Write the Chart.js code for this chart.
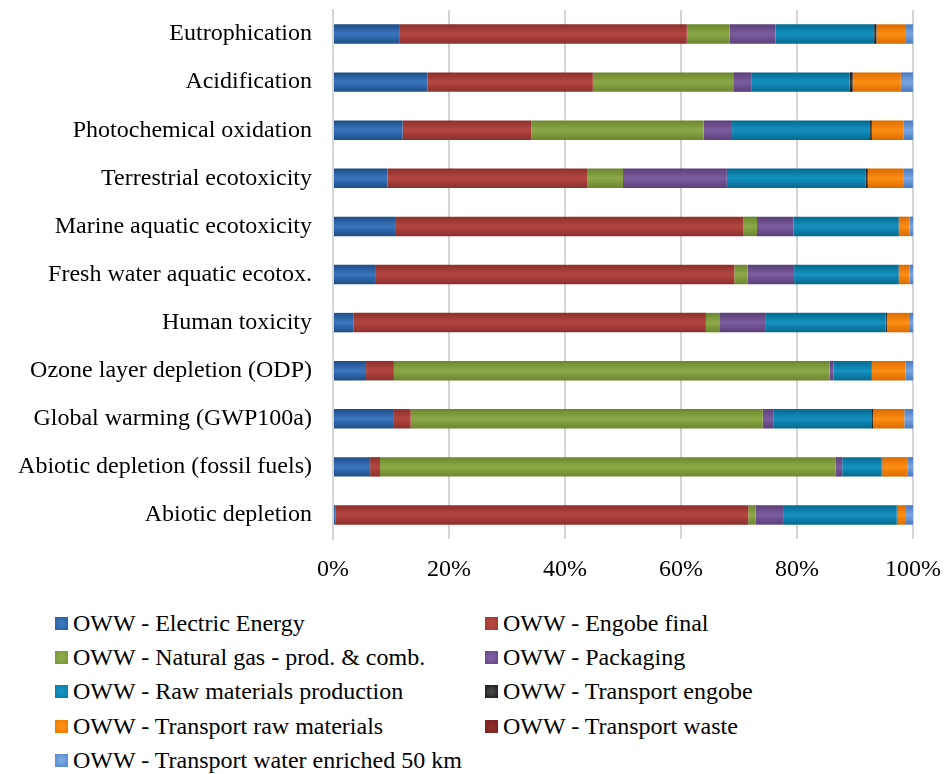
<!DOCTYPE html>
<html>
<head>
<meta charset="utf-8">
<title>OWW impact contributions</title>
<script src="https://cdn.jsdelivr.net/npm/chart.js@4"></script>
<style>
  body { margin: 0; background: #fff; }
  #wrap { position: relative; width: 946px; height: 774px; }
  #chart { position: absolute; left: 0; top: 0; }
  #legend {
    position: absolute; left: 55px; top: 606px;
    display: grid; grid-template-columns: 430px auto; grid-auto-rows: 34.3px;
    font-family: "Liberation Serif", "Times New Roman", serif; font-size: 24px; color: #000;
  }
  .item { display: flex; align-items: center; white-space: nowrap; }
  .box { width: 13px; height: 13px; margin-right: 5px; }
</style>
</head>
<body>
<div id="wrap">
  <canvas id="chart" width="946" height="600"></canvas>
  <div id="legend"></div>
</div>
<script>
// categorie (dall'alto in basso)
const categories = [
  'Eutrophication', 'Acidification', 'Photochemical oxidation', 'Terrestrial ecotoxicity',
  'Marine aquatic ecotoxicity', 'Fresh water aquatic ecotox.', 'Human toxicity',
  'Ozone layer depletion (ODP)', 'Global warming (GWP100a)', 'Abiotic depletion (fossil fuels)',
  'Abiotic depletion'
];

// contributi in % per ogni voce
const electricEnergy  = [11.4, 16.3, 12.0, 9.4, 10.7, 7.4, 3.5, 5.7, 10.5, 6.4, 0.4];
const engobeFinal     = [49.6, 28.5, 22.2, 34.4, 60.0, 61.8, 60.8, 4.8, 2.9, 1.7, 71.2];
const naturalGas      = [7.4, 24.2, 29.7, 6.2, 2.4, 2.3, 2.3, 75.1, 60.7, 78.6, 1.3];
const packaging       = [7.9, 3.1, 4.9, 17.9, 6.3, 8.0, 7.9, 0.7, 1.9, 1.1, 4.7];
const rawMaterials    = [17.0, 17.0, 23.8, 23.9, 18.1, 18.0, 20.8, 6.5, 16.8, 6.8, 19.6];
const transportEngobe = [0.4, 0.5, 0.3, 0.4, 0.1, 0.1, 0.2, 0.1, 0.3, 0.1, 0.1];
const transportRaw    = [5.1, 8.3, 5.5, 6.1, 1.8, 1.8, 3.8, 5.8, 5.4, 4.3, 1.5];
const transportWaste  = [0, 0, 0, 0, 0, 0, 0, 0, 0, 0, 0];
const transportWater  = [1.2, 2.1, 1.6, 1.7, 0.6, 0.6, 0.7, 1.3, 1.5, 1.0, 1.2];

const xTicks = [0, 20, 40, 60, 80, 100];

// riempimento con sfumatura verticale (bordo scuro, centro chiaro)
function bevel(base, dark, light) {
  return (ctx) => {
    const chart = ctx.chart;
    if (!chart.chartArea || ctx.type !== 'data') return base;
    const y = chart.scales.y.getPixelForValue(ctx.dataIndex);
    const g = chart.ctx.createLinearGradient(0, y - 10, 0, y + 10);
    g.addColorStop(0, dark);
    g.addColorStop(0.5, light);
    g.addColorStop(1, dark);
    return g;
  };
}

const series = [
  { label: 'OWW - Electric Energy', data: electricEnergy, c: ['#2C63A5', '#1E4C84', '#3A76BE'] },
  { label: 'OWW - Engobe final', data: engobeFinal, c: ['#A33C38', '#8A2F2C', '#B4473F'] },
  { label: 'OWW - Natural gas - prod. & comb.', data: naturalGas, c: ['#7C9A3C', '#6A842F', '#8DAA46'] },
  { label: 'OWW - Packaging', data: packaging, c: ['#6B4C8C', '#5A3E77', '#7C5DA0'] },
  { label: 'OWW - Raw materials production', data: rawMaterials, c: ['#0981AD', '#05688C', '#1492C2'] },
  { label: 'OWW - Transport engobe', data: transportEngobe, c: ['#222222', '#111111', '#444444'] },
  { label: 'OWW - Transport raw materials', data: transportRaw, c: ['#F07C00', '#D96A00', '#FF8E14'] },
  { label: 'OWW - Transport waste', data: transportWaste, c: ['#7A2522', '#661D1B', '#8C2E2A'] },
  { label: 'OWW - Transport water enriched 50 km', data: transportWater, c: ['#5B8DD0', '#4678BD', '#7BA6E2'] }
];

const serif = '"Liberation Serif", "Times New Roman", serif';

// niente margini automatici: area del grafico fissa
function noPad(scale) {
  scale.paddingTop = 0;
  scale.paddingBottom = 0;
  scale.paddingLeft = 0;
  scale.paddingRight = 0;
}

const chart = new Chart(document.getElementById('chart'), {
  type: 'bar',
  data: {
    labels: categories,
    datasets: series.map(s => ({
      label: s.label,
      data: s.data,
      backgroundColor: bevel(s.c[0], s.c[1], s.c[2]),
      borderWidth: 0,
      barPercentage: 0.81,
      categoryPercentage: 0.5
    }))
  },
  options: {
    indexAxis: 'y',
    responsive: false,
    animation: false,
    layout: { padding: { top: 10, right: 33, left: 0, bottom: 0 } },
    plugins: { legend: { display: false }, tooltip: { enabled: false } },
    scales: {
      x: {
        stacked: true,
        min: 0,
        max: 100,
        afterFit: (scale) => { scale.height = 61; noPad(scale); },
        afterBuildTicks: (scale) => { scale.ticks = xTicks.map(v => ({ value: v })); },
        ticks: {
          padding: 16,
          color: '#000',
          font: { family: serif, size: 24 },
          callback: (v) => v + '%'
        },
        grid: { color: '#d4d4d4', lineWidth: 2, drawTicks: false },
        border: { display: false }
      },
      y: {
        stacked: true,
        afterFit: (scale) => { scale.width = 333; noPad(scale); },
        ticks: {
          padding: 21,
          color: '#000',
          font: { family: serif, size: 24 }
        },
        grid: { display: false, drawTicks: false },
        border: { display: true, color: '#d4d4d4', width: 2 }
      }
    }
  }
});

// legenda in HTML su due colonne
const legendEl = document.getElementById('legend');
series.forEach(s => {
  const item = document.createElement('div');
  item.className = 'item';
  const box = document.createElement('span');
  box.className = 'box';
  box.style.background = `radial-gradient(circle, ${s.c[2]} 20%, ${s.c[0]} 80%)`;
  const txt = document.createElement('span');
  txt.textContent = s.label;
  item.appendChild(box);
  item.appendChild(txt);
  legendEl.appendChild(item);
});
</script>
</body>
</html>
